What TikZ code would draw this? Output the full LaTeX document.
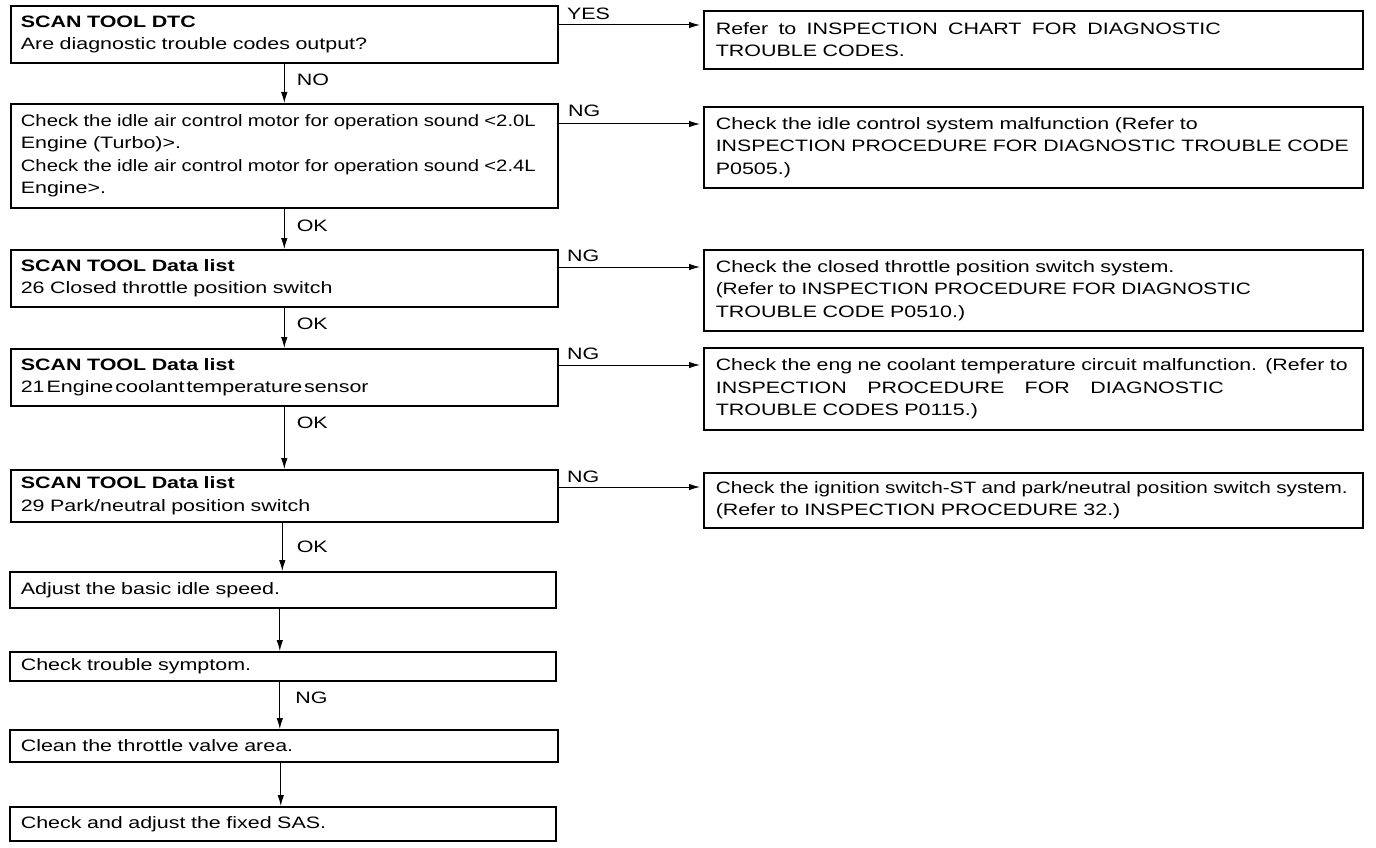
\documentclass[tikz,border=0pt]{standalone}
\usepackage{graphicx}
\usepackage{fontspec}
\setmainfont[FakeStretch=1.3]{Liberation Sans}
\usetikzlibrary{arrows.meta}
\newcommand{\fitl}[2]{\resizebox{#1pt}{\height}{#2}}
\newcommand{\justl}[2]{\leavevmode\hbox to #1pt{\spaceskip=0.28em plus 1fil\relax #2}}
\tikzset{
  boxbase/.style={draw=black, line width=1.6pt, anchor=north west, inner ysep=0pt,
    align=left, font=\fontsize{16.5}{22.5}\selectfont},
  lbox/.style={boxbase, inner xsep=10pt, text width=#1pt-20pt, minimum width=#1pt},
  rbox/.style={boxbase, inner xsep=12pt, text width=#1pt-24pt, minimum width=#1pt},
  conn/.style={line width=1pt, -{Latex[length=11pt,width=6.5pt]}},
  hconn/.style={conn, shorten >=3pt},
  lab/.style={inner sep=0pt, font=\fontsize{16.5}{20}\selectfont},
}
\begin{document}
\begin{tikzpicture}[x=1pt,y=-1pt]
\useasboundingbox[fill=white] (0,0) rectangle (1376,848);

% left column
\node[lbox=547, minimum height=57pt] (b1) at (10,5)
  {\textbf{SCAN TOOL DTC}\\
   Are diagnostic trouble codes output?};
\node[lbox=547, minimum height=104pt] (b2) at (10,103)
  {\fitl{515}{Check the idle air control motor for operation sound <2.0L}\\
   Engine (Turbo)>.\\
   \fitl{515}{Check the idle air control motor for operation sound <2.4L}\\
   Engine>.};
\node[lbox=547, minimum height=57pt] (b3) at (10,249)
  {\textbf{SCAN TOOL Data list}\\
   26 Closed throttle position switch};
\node[lbox=547, minimum height=57pt] (b4) at (10,348)
  {\textbf{SCAN TOOL Data list}\\
   {\spaceskip=2pt\relax 21 Engine coolant temperature sensor}};
\node[lbox=547, minimum height=52pt] (b5) at (10,469)
  {\textbf{SCAN TOOL Data list}\\
   29 Park/neutral position switch};
\node[lbox=546, inner xsep=11pt, text width=524pt, minimum height=36pt] (b6) at (9,571)
  {Adjust the basic idle speed.};
\node[lbox=546, inner xsep=11pt, text width=524pt, minimum height=29pt] (b7) at (9,651)
  {Check trouble symptom.};
\node[lbox=548, inner xsep=11pt, text width=526pt, minimum height=32pt] (b8) at (9,729)
  {Clean the throttle valve area.};
\node[lbox=546, inner xsep=11pt, text width=524pt, minimum height=34pt] (b9) at (9,806)
  {Check and adjust the fixed SAS.};

% right column
\node[rbox=659, minimum height=58pt] (r1) at (703,10)
  {\justl{505}{Refer to INSPECTION CHART FOR DIAGNOSTIC}\\
   TROUBLE CODES.};
\node[rbox=659, minimum height=81pt] (r2) at (703,106)
  {Check the idle control system malfunction (Refer to\\
   \fitl{633}{INSPECTION PROCEDURE FOR DIAGNOSTIC TROUBLE CODE}\\
   P0505.)};
\node[rbox=659, minimum height=81pt] (r3) at (703,249)
  {Check the closed throttle position switch system.\\
   \fitl{535}{(Refer to INSPECTION PROCEDURE FOR DIAGNOSTIC}\\
   TROUBLE CODE P0510.)};
\node[rbox=659, minimum height=82pt] (r4) at (703,347)
  {\fitl{632}{Check the eng ne coolant temperature circuit malfunction. (Refer to}\\
   \justl{508}{INSPECTION PROCEDURE FOR DIAGNOSTIC}\\
   TROUBLE CODES P0115.)};
\node[rbox=659, minimum height=55pt] (r5) at (703,472)
  {\fitl{632}{Check the ignition switch-ST and park/neutral position switch system.}\\
   (Refer to INSPECTION PROCEDURE 32.)};

% horizontal connectors
\draw[hconn] ([yshift=-20pt]b1.north east) coordinate (h1) -- (h1 -| r1.west)
  node[lab, pos=0, anchor=base west, xshift=8pt, yshift=5pt] {YES};
\draw[hconn] ([yshift=-21pt]b2.north east) coordinate (h2) -- (h2 -| r2.west)
  node[lab, pos=0, anchor=base west, xshift=9pt, yshift=7pt] {NG};
\draw[hconn] ([yshift=-18pt]b3.north east) coordinate (h3) -- (h3 -| r3.west)
  node[lab, pos=0, anchor=base west, xshift=8pt, yshift=6pt] {NG};
\draw[hconn] ([yshift=-17pt]b4.north east) coordinate (h4) -- (h4 -| r4.west)
  node[lab, pos=0, anchor=base west, xshift=8pt, yshift=6pt] {NG};
\draw[hconn] ([yshift=-18pt]b5.north east) coordinate (h5) -- (h5 -| r5.west)
  node[lab, pos=0, anchor=base west, xshift=8pt, yshift=5pt] {NG};

% vertical connectors
\draw[conn] (b1.south) -- (b1.south |- b2.north)
  node[lab, pos=.42, anchor=west, xshift=12pt] {NO};
\draw[conn] (b2.south) -- (b2.south |- b3.north)
  node[lab, pos=.42, anchor=west, xshift=12pt] {OK};
\draw[conn] (b3.south) -- (b3.south |- b4.north)
  node[lab, pos=.4, anchor=west, xshift=12pt] {OK};
\draw[conn] (b4.south) -- (b4.south |- b5.north)
  node[lab, pos=.26, anchor=west, xshift=12pt] {OK};
\draw[conn] ([xshift=-2pt]b5.south) coordinate (v5) -- (v5 |- b6.north)
  node[lab, pos=.5, anchor=west, xshift=14pt] {OK};
\draw[conn] ([xshift=-3pt]b6.south) coordinate (v6) -- (v6 |- b7.north);
\draw[conn] ([xshift=-3pt]b7.south) coordinate (v7) -- (v7 |- b8.north)
  node[lab, pos=.35, anchor=west, xshift=15pt] {NG};
\draw[conn] ([xshift=-3pt]b8.south) coordinate (v8) -- (v8 |- b9.north);
\end{tikzpicture}
\end{document}
